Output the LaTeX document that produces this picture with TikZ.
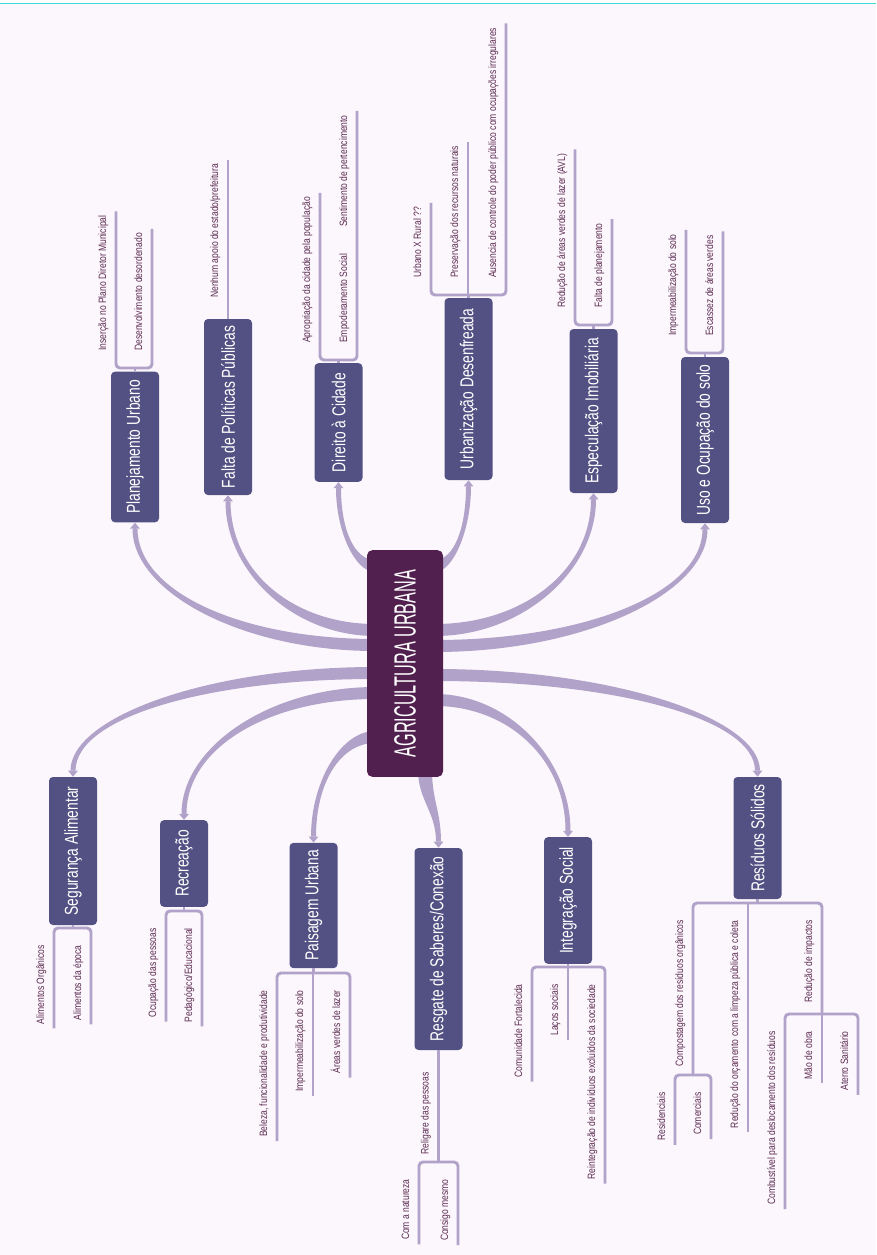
\documentclass[tikz,border=0pt]{standalone}
\usepackage{fontspec}
\setmainfont{Liberation Sans}
\newfontfamily\corefont[FakeStretch=0.53]{Liberation Sans}
\newfontfamily\topicfont[FakeStretch=0.74]{Liberation Sans}
\newfontfamily\leaffont[FakeStretch=0.8]{Liberation Sans}
\usetikzlibrary{arrows.meta,calc}

\definecolor{paper}{HTML}{FCF7FC}
\definecolor{edgecyan}{HTML}{3FD9D9}
\definecolor{rootplum}{HTML}{52204F}
\definecolor{topicblue}{HTML}{535083}
\definecolor{linklilac}{HTML}{B1A2C9}
\definecolor{leafplum}{HTML}{5C2B52}

\tikzset{
  core/.style={rotate=90, fill=rootplum, text=white, rounded corners=4pt,
    minimum height=57pt, minimum width=170pt, font=\corefont\fontsize{23}{26}\selectfont},
  topic/.style={rotate=90, fill=topicblue, text=white, rounded corners=3pt,
    minimum height=36pt, inner xsep=2pt, font=\topicfont\fontsize{14}{16}\selectfont},
  leaf/.style={rotate=90, text=leafplum, inner xsep=3pt, inner ysep=5.5pt,
    text height=6pt, text depth=1.8pt, font=\leaffont\fontsize{8}{9}\selectfont},
  twig/.style={draw=linklilac, line width=2.2pt, rounded corners=3pt},
  arrowtip/.style={draw=linklilac, line width=2pt, -{Triangle[length=4.5pt,width=7pt]}}
}

% tapered limb: start, start half-width, first control, second control,
% topic anchor, arrow base offset, end half-width
\newcommand{\limb}[7]{%
  \fill[linklilac] ($(#1)+(#2)$) .. controls ($(#1)+(#2)+(#3)$) and ($(#5)+(#6)+(#7)+(#4)$) .. ($(#5)+(#6)+(#7)$)
    -- ($(#5)+(#6)-(#7)$) .. controls ($(#5)+(#6)-(#7)+(#4)$) and ($(#1)-(#2)+(#3)$) .. ($(#1)-(#2)$) -- cycle;
  \draw[arrowtip] ($(#5)+(#6)$) -- (#5);
}

\begin{document}
\begin{tikzpicture}[x=0.75pt, y=-0.75pt]
  \useasboundingbox (0,0) rectangle (876,1255);
  \fill[paper] (0,4) rectangle (876,1255);
  \draw[edgecyan, line width=1pt] (0,3.5) -- (876,3.5);

  % main topics
  \node[topic, minimum width=113pt] (plan) at (135,447) {Planejamento Urbano};
  \node[topic, minimum width=132pt] (falta) at (228,407) {Falta de Políticas Públicas};
  \node[topic, minimum width=89pt] (dir) at (338.5,422.5) {Direito à Cidade};
  \node[topic, minimum width=136.5pt] (urb) at (468.5,389) {Urbanização Desenfreada};
  \node[topic, minimum width=123pt] (esp) at (593.5,411) {Especulação Imobiliária};
  \node[topic, minimum width=124.5pt] (uso) at (705,440) {Uso e Ocupação do solo};

  \node[topic, minimum width=111pt] (seg) at (73,851) {Segurança Alimentar};
  \node[topic, minimum width=65pt] (rec) at (184,863.5) {Recreação};
  \node[topic, minimum width=94pt] (pais) at (313.5,905.5) {Paisagem Urbana};
  \node[topic, minimum width=151.5pt] (resg) at (438.5,949) {Resgate de Saberes/Conexão};
  \node[topic, minimum width=95pt] (integ) at (568,900.5) {Integração Social};
  \node[topic, minimum width=91.5pt] (res) at (757.5,838) {Resíduos Sólidos};

  % Planejamento Urbano
  \coordinate (planB) at (135,368);
  \node[leaf, anchor=south west] (plan1) at (116,355) {Inserção no Plano Diretor Municipal};
  \node[leaf, anchor=south west] (plan2) at (152,355) {Desenvolvimento desordenado};
  \draw[twig] (plan.east) -- (planB);
  \draw[twig] (plan1.south east) -- (plan1.south east |- planB) -- (plan2.south east |- planB) -- (plan2.south east);

  % Falta de Politicas Publicas
  \node[leaf, anchor=south west] (falta1) at (228,302) {Nenhum apoio do estado/prefeitura};
  \draw[twig] (falta.east) -- (falta1.south east);

  % Direito a Cidade
  \coordinate (dirB) at (338.5,360);
  \node[leaf, anchor=south west] (dir1) at (320,347) {Apropriação da cidade pela população};
  \node[leaf, anchor=south west] (dir2) at (357,347) {Empoderamento Social};
  \node[leaf, anchor=south west] (dir3) at (357,231) {Sentimento de pertencimento};
  \draw[twig] (dir.east) -- (dirB);
  \draw[twig] (dir1.south east) -- (dir1.south east |- dirB) -- (dir2.south east |- dirB) -- (dir3.south east);

  % Urbanizacao Desenfreada
  \coordinate (urbB) at (468.5,295);
  \node[leaf, anchor=south west] (urb1) at (431,282) {Urbano X Rural ??};
  \node[leaf, anchor=south west] (urb2) at (468,282) {Preservação dos recursos naturais};
  \node[leaf, anchor=south west] (urb3) at (506,282) {Ausencia de controle do poder público com ocupações irregulares};
  \draw[twig] (urb.east) -- (urbB);
  \draw[twig] (urb1.south east) -- (urb1.south east |- urbB) -- (urb3.south east |- urbB) -- (urb3.south east);
  \draw[twig] (urb2.south east |- urbB) -- (urb2.south east);

  % Especulacao Imobiliaria
  \coordinate (espB) at (593.5,325);
  \node[leaf, anchor=south west] (esp1) at (575,312) {Redução de áreas verdes de lazer (AVL)};
  \node[leaf, anchor=south west] (esp2) at (612,312) {Falta de planejamento};
  \draw[twig] (esp.east) -- (espB);
  \draw[twig] (esp1.south east) -- (esp1.south east |- espB) -- (esp2.south east |- espB) -- (esp2.south east);

  % Uso e Ocupacao do solo
  \coordinate (usoB) at (705,353);
  \node[leaf, anchor=south west] (uso1) at (686,340) {Impermeabilização do solo};
  \node[leaf, anchor=south west] (uso2) at (723,340) {Escassez de áreas verdes};
  \draw[twig] (uso.east) -- (usoB);
  \draw[twig] (uso1.south east) -- (uso1.south east |- usoB) -- (uso2.south east |- usoB) -- (uso2.south east);

  % Seguranca Alimentar
  \coordinate (segB) at (73,928);
  \node[leaf, anchor=south east] (seg1) at (54,941) {Alimentos Orgânicos};
  \node[leaf, anchor=south east] (seg2) at (91,941) {Alimentos da época};
  \draw[twig] (seg.west) -- (segB);
  \draw[twig] (seg1.south west) -- (seg1.south west |- segB) -- (seg2.south west |- segB) -- (seg2.south west);

  % Recreacao
  \coordinate (recB) at (184,911);
  \node[leaf, anchor=south east] (rec1) at (166,924) {Ocupação das pessoas};
  \node[leaf, anchor=south east] (rec2) at (202,924) {Pedagógico/Educacional};
  \draw[twig] (rec.west) -- (recB);
  \draw[twig] (rec1.south west) -- (rec1.south west |- recB) -- (rec2.south west |- recB) -- (rec2.south west);

  % Paisagem Urbana
  \coordinate (paisB) at (313.5,973);
  \node[leaf, anchor=south east] (pais1) at (277,986) {Beleza, funcionalidade e produtividade};
  \node[leaf, anchor=south east] (pais2) at (313,986) {Impermeabilização do solo};
  \node[leaf, anchor=south east] (pais3) at (350,986) {Áreas verdes de lazer};
  \draw[twig] (pais.west) -- (paisB);
  \draw[twig] (pais1.south west) -- (pais1.south west |- paisB) -- (pais3.south west |- paisB) -- (pais3.south west);
  \draw[twig] (pais2.south west |- paisB) -- (pais2.south west);

  % Resgate de Saberes/Conexao
  \coordinate (resgB) at (438.5,1162);
  \node[leaf, anchor=south east] (resg1) at (438.5,1068) {Religare das pessoas};
  \node[leaf, anchor=south east] (resg2) at (419,1175) {Com a natureza};
  \node[leaf, anchor=south east] (resg3) at (458,1175) {Consigo mesmo};
  \draw[twig] (resg.west) -- (resgB);
  \draw[twig] (resg2.south west) -- (resg2.south west |- resgB) -- (resg3.south west |- resgB) -- (resg3.south west);

  % Integracao Social
  \coordinate (integB) at (568,967);
  \node[leaf, anchor=south east] (integ1) at (532,980) {Comunidade Fortalecida};
  \node[leaf, anchor=south east] (integ2) at (568,980) {Laços sociais};
  \node[leaf, anchor=south east] (integ3) at (605,980) {Reintegração de indivíduos excluídos da sociedade};
  \draw[twig] (integ.west) -- (integB);
  \draw[twig] (integ1.south west) -- (integ1.south west |- integB) -- (integ3.south west |- integB) -- (integ3.south west);
  \draw[twig] (integ2.south west |- integB) -- (integ2.south west);

  % Residuos Solidos
  \coordinate (resB) at (757.5,903);
  \coordinate (resC) at (693,1075);
  \coordinate (resD) at (822,1014);
  \node[leaf, anchor=south east] (res1) at (693,916) {Compostagem dos resíduos orgânicos};
  \node[leaf, anchor=south east] (res2) at (748,916) {Redução do orçamento com a limpeza pública e coleta};
  \node[leaf, anchor=south east] (res3) at (822,916) {Redução de impactos};
  \node[leaf, anchor=south east] (res1a) at (675,1088) {Residenciais};
  \node[leaf, anchor=south east] (res1b) at (711,1088) {Comerciais};
  \node[leaf, anchor=south east] (res3a) at (785,1027) {Combustível para deslocamento dos resíduos};
  \node[leaf, anchor=south east] (res3b) at (822,1027) {Mão de obra};
  \node[leaf, anchor=south east] (res3c) at (858,1027) {Aterro Sanitário};
  \draw[twig] (res.west) -- (resB);
  \draw[twig] (resC) -- (resC |- resB) -- (resD |- resB) -- (resD);
  \draw[twig] (res2.south west |- resB) -- (res2.south west);
  \draw[twig] (res1a.south west) -- (res1a.south west |- resC) -- (res1b.south west |- resC) -- (res1b.south west);
  \draw[twig] (res3a.south west) -- (res3a.south west |- resD) -- (res3c.south west |- resD) -- (res3c.south west);
  \draw[twig] (resD) -- (res3b.south west);

  % limbs from the centre
  \coordinate (s1) at (375,645);
  \coordinate (s2) at (375,630);
  \coordinate (s3) at (375,566);
  \coordinate (s4) at (435,566);
  \coordinate (s5) at (435,630);
  \coordinate (s6) at (435,646);
  \coordinate (s7) at (375,673);
  \coordinate (s8) at (375,693);
  \coordinate (s9) at (375,737);
  \coordinate (s10) at (425,770);
  \coordinate (s11) at (435,700);
  \coordinate (s12) at (435,675);

  \limb{s1}{0,-6}{-132,0}{0,64}{plan.west}{0,6}{2.5,0}
  \limb{s2}{0,-6}{-81,0}{0,71}{falta.west}{0,6}{2.5,0}
  \limb{s3}{0,-6}{-20,0}{0,43}{dir.west}{0,6}{2.5,0}
  \limb{s4}{0,-6}{18,0}{0,44}{urb.west}{0,6}{-2.5,0}
  \limb{s5}{0,-6}{87,0}{0,72}{esp.west}{0,6}{-2.5,0}
  \limb{s6}{0,-6}{149,0}{0,64}{uso.west}{0,6}{-2.5,0}
  \limb{s7}{0,-6}{-166,0}{0,-54}{seg.east}{0,-6}{-2.5,0}
  \limb{s8}{0,-6}{-105,0}{0,-67}{rec.east}{0,-6}{-2.5,0}
  \limb{s9}{0,-6}{-34,0}{0,-55}{pais.east}{0,-6}{-2.5,0}
  \limb{s10}{7,0}{0,30}{0,-30}{resg.east}{0,-6}{2.5,0}
  \limb{s11}{0,-6}{73,0}{0,-72}{integ.east}{0,-6}{2.5,0}
  \limb{s12}{0,-6}{177,0}{0,-53}{res.east}{0,-6}{2.5,0}

  % centre
  \node[core] (agri) at (405,663.5) {AGRICULTURA URBANA};
\end{tikzpicture}
\end{document}
